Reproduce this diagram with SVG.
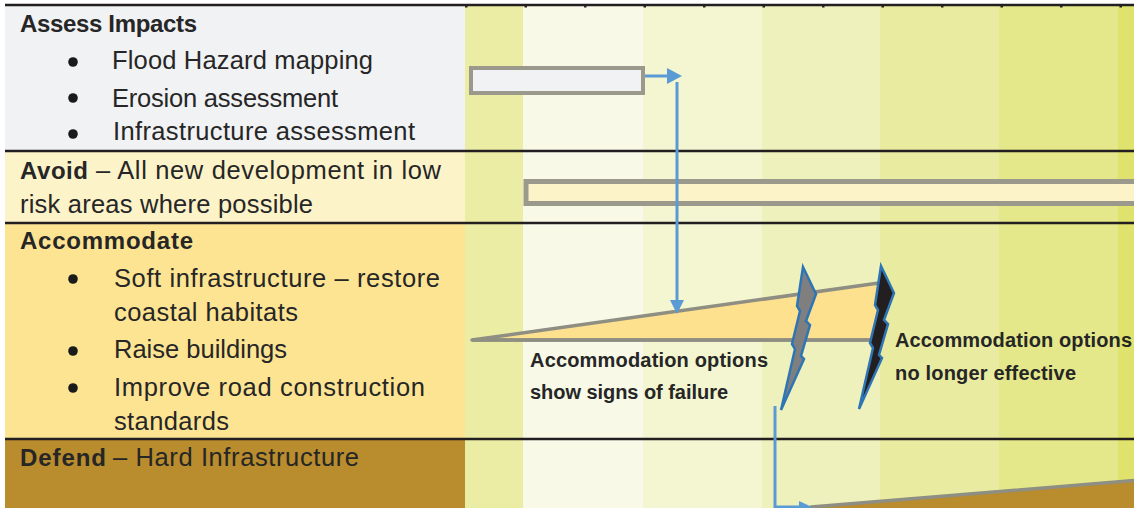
<svg xmlns="http://www.w3.org/2000/svg" width="1134" height="508" viewBox="0 0 1134 508">
<defs>
<style>
.t{font-family:"Liberation Sans",Arial,sans-serif;font-size:25.5px;fill:#262626}
.b{font-weight:bold;font-size:24px}
.s{font-family:"Liberation Sans",Arial,sans-serif;font-size:20px;font-weight:bold;fill:#262626}
.rule{stroke:#231f20;stroke-width:2.5}
.bar{stroke:#9a998c}
.wedge{stroke:#8f8e83;stroke-width:3.5;stroke-linejoin:round}
.bolt{stroke:#2e75b6;stroke-width:2.5;stroke-linejoin:miter}
.conn{stroke:#5b9bd5;stroke-width:3;fill:none}
.head{fill:#5b9bd5}
</style>
<polygon id="boltShape" points="803,267 816,294 806,321 810,325 801,356 804,359 781,410 795,349 792,344 800,311 797,306"/>
</defs>
<rect width="1134" height="508" fill="#ffffff"/>
<g id="stripes">
<rect x="465" y="4" width="59" height="504" fill="#ebeda4"/>
<rect x="523" y="4" width="121" height="504" fill="#f8f9e7"/>
<rect x="643" y="4" width="120" height="504" fill="#f3f6d0"/>
<rect x="762" y="4" width="119" height="504" fill="#eef1bb"/>
<rect x="880" y="4" width="120" height="504" fill="#e9eca0"/>
<rect x="999" y="4" width="120" height="504" fill="#e4e88a"/>
<rect x="1118" y="4" width="16" height="504" fill="#dfe36d"/>
</g>
<g id="panel-assess">
<rect x="5" y="5" width="460" height="146" fill="#f1f2f4"/>
<text class="t b" x="20" y="32" textLength="177">Assess Impacts</text>
<circle cx="73" cy="62" r="4.8" fill="#1a1a1a"/>
<text class="t" x="112" y="69" textLength="261">Flood Hazard mapping</text>
<circle cx="73" cy="98" r="4.8" fill="#1a1a1a"/>
<text class="t" x="112" y="107" textLength="226">Erosion assessment</text>
<circle cx="73" cy="134" r="4.8" fill="#1a1a1a"/>
<text class="t" x="113" y="140" textLength="302">Infrastructure assessment</text>
</g>
<g id="panel-avoid">
<rect x="5" y="151" width="460" height="72" fill="#fcf3c9"/>
<text class="t b" x="20" y="179" textLength="68">Avoid</text>
<text class="t" x="96" y="179" textLength="345">– All new development in low</text>
<text class="t" x="20" y="213" textLength="293">risk areas where possible</text>
</g>
<g id="panel-accommodate">
<rect x="5" y="223" width="460" height="216" fill="#fde493"/>
<text class="t b" x="20" y="249" textLength="173">Accommodate</text>
<circle cx="73" cy="279" r="4.8" fill="#1a1a1a"/>
<text class="t" x="114" y="287" textLength="326">Soft infrastructure – restore</text>
<text class="t" x="114" y="321" textLength="184">coastal habitats</text>
<circle cx="73" cy="351" r="4.8" fill="#1a1a1a"/>
<text class="t" x="114" y="358" textLength="173">Raise buildings</text>
<circle cx="73" cy="388" r="4.8" fill="#1a1a1a"/>
<text class="t" x="114" y="396" textLength="311">Improve road construction</text>
<text class="t" x="114" y="430" textLength="115">standards</text>
</g>
<g id="panel-defend">
<rect x="5" y="439" width="460" height="69" fill="#b98c2d"/>
<text class="t b" x="20" y="466" textLength="86">Defend</text>
<text class="t" x="113" y="466" textLength="246">– Hard Infrastructure</text>
</g>
<g id="rules">
<line class="rule" x1="5" y1="5" x2="1134" y2="5"/>
<line class="rule" x1="5" y1="151" x2="1134" y2="151"/>
<line class="rule" x1="5" y1="223" x2="1134" y2="223"/>
<line class="rule" x1="5" y1="439" x2="1134" y2="439"/>
<g fill="#231f20">
<rect x="465" y="5" width="2.5" height="2.5"/><rect x="524.5" y="5" width="2.5" height="2.5"/><rect x="584" y="5" width="2.5" height="2.5"/><rect x="643.5" y="5" width="2.5" height="2.5"/><rect x="703" y="5" width="2.5" height="2.5"/><rect x="762.5" y="5" width="2.5" height="2.5"/><rect x="822" y="5" width="2.5" height="2.5"/><rect x="881.5" y="5" width="2.5" height="2.5"/><rect x="941" y="5" width="2.5" height="2.5"/><rect x="1000.5" y="5" width="2.5" height="2.5"/><rect x="1060" y="5" width="2.5" height="2.5"/><rect x="1119.5" y="5" width="2.5" height="2.5"/>
</g>
</g>
<g id="bar-assess">
<rect class="bar" x="471" y="68" width="172" height="25" fill="#f1f2f4" stroke="#a3a39c" stroke-width="4"/>
</g>
<g id="bar-avoid">
<rect class="bar" x="526" y="181.5" width="700" height="22" fill="#fcf3c9" stroke-width="5"/>
</g>
<g id="wedge-accommodate">
<polygon class="wedge" points="472,340 879,283 879,340" fill="#fde18f"/>
<line class="wedge" x1="472" y1="340" x2="883" y2="340"/>
</g>
<g id="wedge-defend">
<polygon class="wedge" points="811,507 1140,480 1140,512 811,512" fill="#b98c2d"/>
</g>
<g id="connectors">
<line class="conn" x1="645" y1="76" x2="668" y2="76"/>
<polygon class="head" points="667,68 682,76 667,84"/>
<line class="conn" x1="677" y1="82" x2="677" y2="301"/>
<polygon class="head" points="670,300 684,300 677,314"/>
<polyline class="conn" points="775,406 775,507 800,507"/>
<polygon class="head" points="799,501 812,507 799,513"/>
</g>
<g id="bolt-failure">
<use href="#boltShape" class="bolt" fill="#7f7f7f"/>
</g>
<g id="bolt-ineffective">
<use href="#boltShape" class="bolt" fill="#231f20" transform="translate(78,-1)"/>
</g>
<g id="label-failure">
<text class="s" x="530" y="367" textLength="238">Accommodation options</text>
<text class="s" x="530" y="399" textLength="198">show signs of failure</text>
</g>
<g id="label-ineffective">
<text class="s" x="895" y="347" textLength="237">Accommodation options</text>
<text class="s" x="895" y="380" textLength="181">no longer effective</text>
</g>
</svg>
